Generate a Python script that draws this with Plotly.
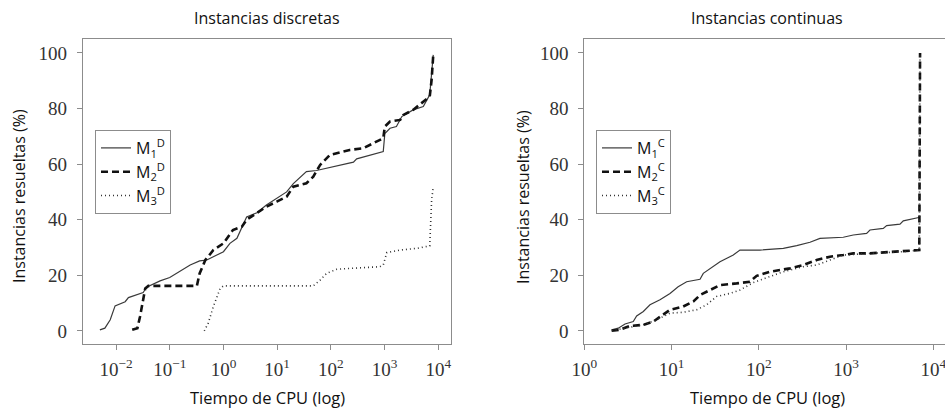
import plotly.graph_objects as go

# CPU time (s) and cumulative % of solved instances — discrete instances
d_m1_t = [0.0050, 0.0062, 0.0078, 0.0096, 0.0148, 0.017, 0.032, 0.037, 0.066, 0.10,
          0.24, 0.36, 0.49, 0.65, 1.0, 1.32, 1.78, 2.7, 4.2, 6.3, 9.8, 15, 20, 26, 35,
          54, 110, 263, 302, 871, 944, 1010, 1260, 1660, 2090, 3390, 5250, 6920, 7500, 8050]
d_m1_y = [0.4, 1.0, 4.0, 9.0, 10.5, 12.0, 13.8, 15.7, 18.0, 19.2,
          23.7, 25.2, 25.5, 26.7, 28.5, 31.5, 33.3, 41.0, 42.5, 45.3, 47.7, 50.0, 53.0, 55.0, 57.3,
          57.7, 59.0, 60.7, 61.9, 64.1, 64.5, 71.0, 72.9, 73.5, 77.1, 79.5, 80.7, 84.9, 91.5, 99.3]

d_m2_t = [0.020, 0.025, 0.028, 0.031, 0.035, 0.040, 0.32, 0.36, 0.46, 0.65, 1.0, 1.5,
          2.2, 2.7, 4.2, 6.3, 9.8, 15, 20, 35, 47, 63, 96, 224, 398, 617, 944, 1010,
          1260, 1950, 2240, 3390, 6920, 7500, 8050]
d_m2_y = [0.4, 1.0, 5.2, 10.5, 15.3, 16.2, 16.2, 20.7, 25.5, 29.1, 31.5, 36.3,
          37.5, 40.0, 42.3, 44.7, 46.5, 48.3, 51.9, 53.1, 55.5, 59.7, 63.3, 65.1, 65.7, 67.5, 69.3, 73.5,
          75.3, 75.9, 77.7, 79.5, 84.3, 90.3, 99.3]

d_m3_t = [0.44, 0.52, 0.65, 0.87, 1.0, 47, 63, 83, 129, 813, 944, 1100, 1950, 3980, 6920, 7500, 8050]
d_m3_y = [0.0, 2.8, 8.8, 15.3, 16.2, 16.2, 18.3, 20.7, 22.2, 23.1, 23.7, 28.2, 29.1, 29.7, 30.6, 47.0, 51.9]

# CPU time (s) and cumulative % of solved instances — continuous instances
c_m1_t = [2.06, 2.45, 2.93, 3.64, 3.98, 4.75, 5.66, 7.37, 9.6, 11.9, 14.9, 21.2, 23.1, 27.6,
          35.9, 51, 60.8, 103, 191, 272, 386, 502, 929, 1210, 1720, 1880, 2670, 2920, 4150,
          4530, 6440, 7030]
c_m1_y = [0.4, 1.0, 2.5, 3.4, 5.4, 7.0, 9.4, 11.2, 13.5, 15.9, 17.7, 18.6, 20.7, 22.5,
          24.9, 27.3, 29.1, 29.1, 29.7, 30.7, 31.9, 33.3, 33.7, 34.5, 35.1, 36.3, 36.9, 37.9, 38.4,
          39.6, 40.5, 40.9]

c_m2_t = [2.06, 2.56, 3.34, 4.75, 6.2, 8.0, 9.6, 13.6, 17.8, 21.2, 27.6, 35.9, 55.7, 79,
          94.5, 134, 228, 324, 460, 654, 929, 1210, 1880, 2920, 4530, 6910, 7050]
c_m2_y = [0.1, 0.4, 1.8, 2.2, 3.4, 5.8, 7.6, 8.8, 10.6, 12.9, 14.7, 16.5, 17.1, 17.7,
          19.8, 21.3, 22.5, 23.7, 25.5, 26.7, 27.3, 27.9, 27.9, 28.3, 28.8, 29.1, 100.0]

c_m3_t = [2.06, 2.56, 3.34, 4.75, 6.75, 9.6, 13.6, 19.4, 25.2, 32.9, 46.7, 60.8, 86.5,
          134, 191, 324, 460, 654, 929, 1880, 4530, 6910, 7050]
c_m3_y = [0.1, 0.6, 1.3, 2.2, 4.0, 6.4, 6.7, 7.6, 9.4, 12.4, 13.5, 14.7, 17.4,
          19.5, 21.3, 23.1, 23.7, 25.5, 27.3, 27.9, 28.5, 29.1, 100.0]

y_ticks = [0, 20, 40, 60, 80, 100]
x_ticks_d = [1e-2, 1e-1, 1e0, 1e1, 1e2, 1e3, 1e4]
x_text_d = ["10<sup>−2</sup>", "10<sup>−1</sup>", "10<sup>0</sup>", "10<sup>1</sup>",
            "10<sup>2</sup>", "10<sup>3</sup>", "10<sup>4</sup>"]
x_ticks_c = [1e0, 1e1, 1e2, 1e3, 1e4]
x_text_c = ["10<sup>0</sup>", "10<sup>1</sup>", "10<sup>2</sup>", "10<sup>3</sup>", "10<sup>4</sup>"]

SANS = "Open Sans"
SERIF = "Liberation Serif"
FRAME = "#8c8c8c"
INK = "#111111"

styles = [
    dict(color="#3a3a3a", width=1.2, dash="solid"),
    dict(color="#111111", width=2.6, dash="7px,4px"),
    dict(color="#333333", width=1.6, dash="1px,3px"),
]

fig = go.Figure()

disc = [(d_m1_t, d_m1_y), (d_m2_t, d_m2_y), (d_m3_t, d_m3_y)]
cont = [(c_m1_t, c_m1_y), (c_m2_t, c_m2_y), (c_m3_t, c_m3_y)]

for i, (t, y) in enumerate(disc):
    fig.add_trace(go.Scatter(x=t, y=y, mode="lines", line=styles[i],
                             name=f"M<sub>{i+1}</sub><sup>D</sup>",
                             xaxis="x", yaxis="y", legend="legend"))
for i, (t, y) in enumerate(cont):
    fig.add_trace(go.Scatter(x=t, y=y, mode="lines", line=styles[i],
                             name=f"M<sub>{i+1}</sub><sup>C</sup>",
                             xaxis="x2", yaxis="y2", legend="legend2"))

W, H = 945, 409
y_dom = [1 - 344 / H, 1 - 39 / H]

axis_common = dict(
    showgrid=False, zeroline=False, showline=True, linecolor=FRAME, linewidth=1.2,
    ticks="outside", ticklen=5, tickcolor=FRAME, tickwidth=1, automargin=False,
    tickfont=dict(family=SERIF, size=19, color="#333333"),
)

def txt(s, x, y, size, angle=0):
    return dict(text=s, x=x / W, y=1 - y / H, xref="paper", yref="paper",
                showarrow=False, xanchor="center", yanchor="middle", textangle=angle,
                font=dict(family=SANS, size=size, color=INK))

fig.update_layout(
    width=W, height=H,
    margin=dict(l=0, r=0, t=0, b=0),
    paper_bgcolor="white", plot_bgcolor="white",
    xaxis=dict(axis_common, type="log", domain=[83 / W, 451 / W], range=[-2.615, 4.236],
               mirror=True, tickvals=x_ticks_d, ticktext=x_text_d, ticklabelstandoff=3,
               anchor="y"),
    yaxis=dict(axis_common, domain=y_dom, range=[-4.7, 105], mirror=True,
               tickvals=y_ticks, ticklabelstandoff=6, anchor="x"),
    xaxis2=dict(axis_common, type="log", domain=[584.3 / W, 1.0], range=[0, 4.134],
                mirror=True, tickvals=x_ticks_c, ticktext=x_text_c, ticklabelstandoff=3,
                ticklabeloverflow="allow", anchor="y2"),
    yaxis2=dict(axis_common, domain=y_dom, range=[-4.7, 105], mirror=False,
                tickvals=y_ticks, ticklabelstandoff=6, anchor="x2"),
    legend=dict(x=95 / W, y=1 - 130 / H, xanchor="left", yanchor="top",
                bgcolor="white", bordercolor=FRAME, borderwidth=1, tracegroupgap=0,
                font=dict(family=SANS, size=16, color=INK)),
    legend2=dict(x=596 / W, y=1 - 130 / H, xanchor="left", yanchor="top",
                 bgcolor="white", bordercolor=FRAME, borderwidth=1, tracegroupgap=0,
                 font=dict(family=SANS, size=16, color=INK)),
    showlegend=True,
    annotations=[
        txt("Instancias discretas", 267, 18, 16),
        txt("Instancias continuas", 767, 18, 16),
        txt("Tiempo de CPU (log)", 267, 397, 16.5),
        txt("Tiempo de CPU (log)", 767, 397, 16.5),
        txt("Instancias resueltas (%)", 19, 196, 16, -90),
        txt("Instancias resueltas (%)", 523, 197, 16, -90),
    ],
)

fig.write_html("out.html")
